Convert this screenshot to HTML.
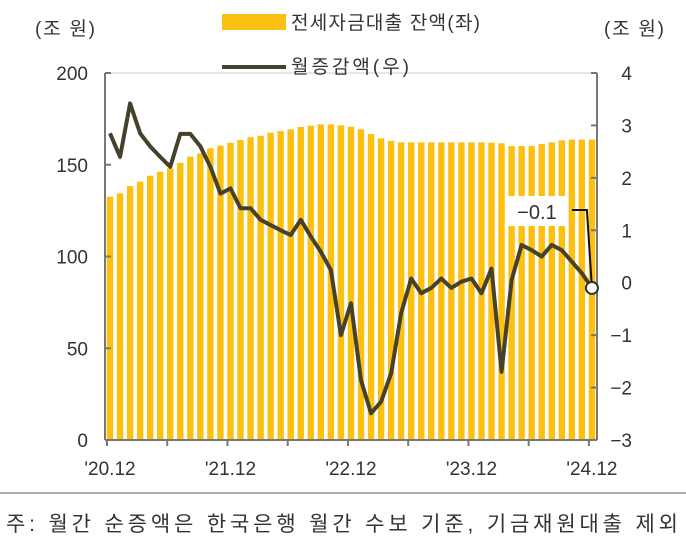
<!DOCTYPE html>
<html><head><meta charset="utf-8">
<style>
body{margin:0;background:#fff;}
svg text{font-family:"Liberation Sans","Noto Sans CJK KR",sans-serif;fill:#333;}
</style></head>
<body>
<svg width="686" height="551" viewBox="0 0 686 551">
<g id="bars"></g>
<g id="axes"></g>
<g id="line"></g>
<text x="35" y="35" font-size="19" textLength="60">(조 원)</text>
<text x="604" y="35" font-size="19" textLength="60">(조 원)</text>
<rect x="222" y="14" width="64" height="16" fill="#FBC010"/>
<text x="291" y="29" font-size="19" textLength="189">전세자금대출 잔액(좌)</text>
<line x1="222" y1="67" x2="286" y2="67" stroke="#45412d" stroke-width="4"/>
<text x="291" y="73" font-size="19" textLength="118">월증감액(우)</text>
<line x1="0" y1="493" x2="686" y2="493" stroke="#555" stroke-width="1"/>
<text x="6" y="531" font-size="21" textLength="672">주: 월간 순증액은 한국은행 월간 수보 기준, 기금재원대출 제외</text>
</svg>
<script>
const balances=[132.6,134.4,138.4,140.8,144,146.2,148,151,154.4,156.2,159,160.4,162,163.5,165,165.8,167.5,168.4,169.3,170.6,171.3,172,172,171.5,170.7,169.3,166.8,164.4,163,162.2,162.2,162.2,162.2,162.2,162.2,162.2,162.2,162.2,162,161.7,160.2,160.2,160.2,161.3,162.2,163.3,163.7,163.7,163.7];
const changes=[2.85,2.4,3.42,2.85,2.6,2.4,2.21,2.84,2.84,2.6,2.21,1.7,1.8,1.42,1.42,1.2,1.1,1.0,0.91,1.2,0.88,0.59,0.24,-1.0,-0.39,-1.86,-2.49,-2.27,-1.73,-0.58,0.08,-0.2,-0.1,0.08,-0.1,0.02,0.08,-0.2,0.27,-1.7,0.05,0.72,0.62,0.5,0.72,0.62,0.4,0.18,-0.1];
const xLabels=["'20.12","'21.12","'22.12","'23.12","'24.12"];
const leftTicks=[0,50,100,150,200];
const rightTicks=[-3,-2,-1,0,1,2,3,4];
const NS="http://www.w3.org/2000/svg";
const X=i=>110+i*10.04;
const yL=v=>440-v*(367/200);
const yR=v=>440-(v+3)*(367/7);
function mk(t,a,p){const e=document.createElementNS(NS,t);for(const k in a)e.setAttribute(k,a[k]);p.appendChild(e);return e;}
const bars=document.getElementById('bars'),axes=document.getElementById('axes'),line=document.getElementById('line');
balances.forEach((v,i)=>{const r=mk('rect',{x:X(i)-3.2,y:yL(v),width:6.4,height:440-yL(v),fill:'#FBC010'},bars);

});
mk('line',{x1:105,y1:73,x2:597,y2:73,stroke:'#ccc','stroke-width':1},axes);
mk('line',{x1:105,y1:73,x2:105,y2:440,stroke:'#777','stroke-width':2},axes);
mk('line',{x1:597,y1:73,x2:597,y2:440,stroke:'#777','stroke-width':2},axes);
mk('line',{x1:105,y1:440,x2:597,y2:440,stroke:'#777','stroke-width':2},axes);
leftTicks.forEach(v=>{mk('line',{x1:105,y1:yL(v),x2:111,y2:yL(v),stroke:'#777','stroke-width':2},axes);
const t=mk('text',{x:88,y:yL(v)+7,'font-size':19,'text-anchor':'end'},axes);t.textContent=v;

});
rightTicks.forEach(v=>{mk('line',{x1:591,y1:yR(v),x2:597,y2:yR(v),stroke:'#777','stroke-width':2},axes);
const t=mk('text',{x:632,y:yR(v)+7,'font-size':19,'text-anchor':'end'},axes);t.textContent=v<0?'\u2212'+(-v):v;

});
for(let k=0;k<9;k++){mk('line',{x1:X(k*6)-3,y1:440,x2:X(k*6)-3,y2:446,stroke:'#777','stroke-width':2},axes);}
xLabels.forEach((s,j)=>{const t=mk('text',{x:X(j*12),y:475,'font-size':19,'text-anchor':'middle'},axes);t.textContent=s;

});
const pts=changes.map((v,i)=>X(i)+','+yR(v)).join(' ');
const pl=mk('polyline',{points:pts,fill:'none',stroke:'#45412d','stroke-width':4,'stroke-linejoin':'round'},line);


const n=changes.length-1,lx=X(n),ly=yR(changes[n]);
mk('polyline',{points:(lx-20)+',210 '+(lx-5)+',210 '+lx+','+ly,fill:'none',stroke:'#111','stroke-width':2},line);
const c=mk('circle',{cx:lx,cy:ly,r:6,fill:'#fff',stroke:'#333','stroke-width':2},line);


const bx=mk('rect',{x:lx-85,y:196,width:60,height:30,fill:'#fff'},line);


const lt=mk('text',{x:lx-55,y:219,'font-size':20,'text-anchor':'middle'},line);lt.textContent='\u22120.1';


</script>
</body></html>
